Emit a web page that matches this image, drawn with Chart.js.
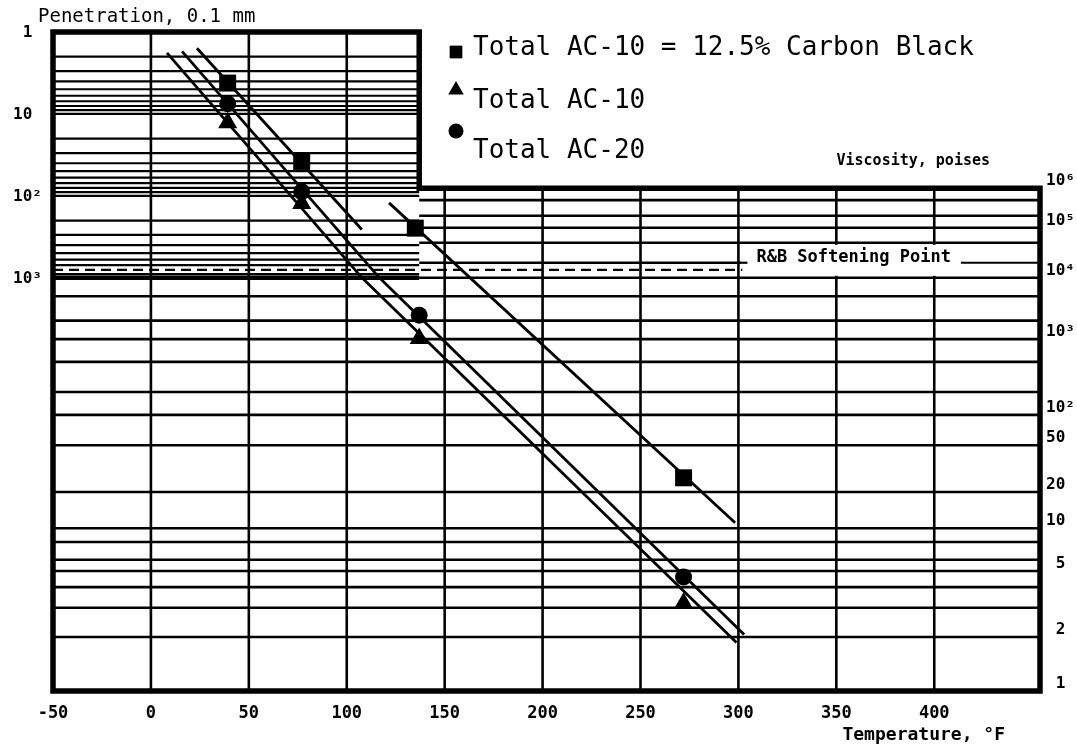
<!DOCTYPE html>
<html>
<head>
<meta charset="utf-8">
<script src="https://cdn.jsdelivr.net/npm/chart.js@4.4.1/dist/chart.umd.min.js"></script>
<style>
  html, body { margin: 0; padding: 0; background: #fff; }
</style>
</head>
<body>
<canvas id="btdc" width="1077" height="750"></canvas>
<script>
// ---------------------------------- Data ----------------------------------
// Legend
var seriesNames = ["Total AC-10 = 12.5% Carbon Black", "Total AC-10", "Total AC-20"];
var seriesMarks = ["rect", "triangle", "circle"];

// Test temperatures, °F
var penTemps = [39.2, 77];
var viscTempsCB = [135, 272];
var viscTemps = [137, 272];

// Penetration, 0.1 mm
var penCB = [4.2, 38];
var penAC10 = [12.8, 124];
var penAC20 = [7.5, 89];

// Viscosity, poises
var viscCB = [98000, 26.4];
var viscAC10 = [1020, 3.2];
var viscAC20 = [2450, 4.6];

// Drawn lines, [temperature, value] end points
var lineCBpen = [[23.5, 1.58], [107.7, 257]];
var lineCBvisc = [[121.6, 425000], [298.3, 11.1]];
var lineAC10pen = [[8.2, 1.8], [107.8, 1000]];
var lineAC10visc = [[107.8, 10000], [299, 1.86]];
var lineAC20pen = [[15.9, 1.72], [116.7, 1000]];
var lineAC20visc = [[116.7, 10000], [302.9, 2.07]];

// R&B softening point level (penetration 800)
var rbLine = [[-50, 800], [302, 800]];

// Axis ticks
var tempTicks = [-50, 0, 50, 100, 150, 200, 250, 300, 350, 400];
var penTickValues = [1, 10, 100, 1000];
var penTickText = ["1 ", "10 ", "10\u00b2", "10\u00b3"];
var viscTickValues = [1, 2, 5, 10, 20, 50, 100, 1000, 10000, 100000, 1000000];
var viscTickText = ["1 ", "2 ", "5 ", "10 ", "20 ", "50 ", "10\u00b2", "10\u00b3", "10\u2074", "10\u2075", "10\u2076"];

// Printed grid lines
var penGrid = [1, 2, 3, 4, 5, 6, 7, 8, 9, 10, 20, 30, 40, 50, 60, 70, 80, 90,
               100, 200, 300, 400, 500, 600, 700, 900, 1000];
var viscGrid = [1, 2, 3, 4, 5, 6, 8, 10, 20, 50, 100, 200, 500, 1000, 2000, 5000,
                10000, 20000, 50000, 100000, 200000, 500000, 1000000];

// ------------------------------ Chart paper -------------------------------
// penetration box ends at this temperature, right part starts at 10^6 poises
var penBoxEdge = 137;
// share of the sheet height used by the 3 penetration decades
var penShare = 0.373;
// viscosity scale of the sheet: [log10 poises, fraction from top]
var viscPaper = [[6, 0.237], [5, 0.297], [4, 0.373], [3, 0.466], [2, 0.581], [1.699, 0.627],
                 [1.301, 0.698], [1, 0.753], [0.699, 0.818], [0.301, 0.918], [0, 1.0]];

Chart.defaults.font.family = "'DejaVu Sans Mono', monospace";
Chart.defaults.color = '#000';

// Viscosity axis with the printed (non log) spacing of the sheet
class PaperViscScale extends Chart.LinearScale {
  buildTicks() {
    return this.options.tickValues.map(function (v) { return { value: v }; });
  }
  paperFraction(v) {
    var p = this.options.paper, L = Math.log10(v);
    for (var i = 0; i < p.length - 1; i++) {
      if (L >= p[i + 1][0] || i === p.length - 2) {
        var t = (L - p[i][0]) / (p[i + 1][0] - p[i][0]);
        return p[i][1] + t * (p[i + 1][1] - p[i][1]);
      }
    }
  }
  getPixelForValue(v) {
    return this.getPixelForDecimal(1 - this.paperFraction(v));
  }
  getValueForPixel(px) {
    var f = (px - this.top) / this.height, p = this.options.paper;
    for (var i = 0; i < p.length - 1; i++) {
      if (f <= p[i + 1][1] || i === p.length - 2) {
        var t = (f - p[i][1]) / (p[i + 1][1] - p[i][1]);
        return Math.pow(10, p[i][0] + t * (p[i + 1][0] - p[i][0]));
      }
    }
  }
}
PaperViscScale.id = 'paperVisc';
PaperViscScale.defaults = {};
Chart.register(PaperViscScale);

function pts(temps, vals) {
  return temps.map(function (t, i) { return { x: t, y: vals[i] }; });
}
function seg(line) {
  return line.map(function (p) { return { x: p[0], y: p[1] }; });
}
function markSet(data, axis, style, r) {
  return { data: data, yAxisID: axis, pointStyle: style, pointRadius: r, showLine: false,
           backgroundColor: '#000', borderColor: '#000', borderWidth: 0, order: 0 };
}
function lineSet(data, axis) {
  return { data: data, yAxisID: axis, showLine: true, pointRadius: 0, borderColor: '#000',
           borderWidth: 2.8, fill: false, tension: 0, order: 1 };
}

// ---------------------------- Grid and frame ------------------------------
var paperPlugin = {
  id: 'paper',
  beforeDatasetsDraw: function (chart) {
    var ctx = chart.ctx, a = chart.chartArea;
    var sx = chart.scales.x, sp = chart.scales.pen, sv = chart.scales.visc;
    var xEdge = sx.getPixelForValue(penBoxEdge);
    var yStep = sv.getPixelForValue(1e6);
    var yPenEnd = sp.getPixelForValue(1000);
    function line(x0, y0, x1, y1) { ctx.beginPath(); ctx.moveTo(x0, y0); ctx.lineTo(x1, y1); ctx.stroke(); }
    ctx.save();
    ctx.strokeStyle = '#000';
    ctx.lineWidth = 2.2;
    penGrid.forEach(function (v) {
      var y = sp.getPixelForValue(v);
      line(a.left, y, xEdge, y);
    });
    ctx.lineWidth = 2.6;
    viscGrid.forEach(function (v) {
      var y = sv.getPixelForValue(v);
      line(y <= yPenEnd + 0.5 ? xEdge : a.left, y, a.right, y);
    });
    tempTicks.forEach(function (t) {
      var px = sx.getPixelForValue(t);
      line(px, t < penBoxEdge ? a.top : yStep, px, a.bottom);
    });

    // R&B label sits on the 2x10^4 line
    var x300 = sx.getPixelForValue(300);
    var y2 = sv.getPixelForValue(20000), yTop = sv.getPixelForValue(50000), yBot = sv.getPixelForValue(10000);
    ctx.fillStyle = '#fff';
    ctx.fillRect(x300 + 2, yTop + 2, a.right - x300 - 4, yBot - yTop - 4);
    ctx.lineWidth = 2.2;
    line(x300, y2, x300 + 9, y2);
    ctx.fillStyle = '#000';
    ctx.font = "bold 17px 'DejaVu Sans Mono'";
    ctx.textAlign = 'left';
    ctx.textBaseline = 'alphabetic';
    var label = 'R&B Softening Point';
    ctx.fillText(label, x300 + 18, y2 - 1);
    line(x300 + 18 + ctx.measureText(label).width + 10, y2, a.right, y2);

    // frame
    ctx.lineWidth = 5.5;
    ctx.lineJoin = 'miter';
    ctx.beginPath();
    ctx.moveTo(a.left, a.top);
    ctx.lineTo(xEdge, a.top);
    ctx.lineTo(xEdge, yStep);
    ctx.lineTo(a.right, yStep);
    ctx.lineTo(a.right, a.bottom);
    ctx.lineTo(a.left, a.bottom);
    ctx.closePath();
    ctx.stroke();
    ctx.lineWidth = 4.5;
    line(a.left, yPenEnd, xEdge, yPenEnd);
    ctx.restore();
  },
  afterDraw: function (chart) {
    var ctx = chart.ctx;
    ctx.save();
    ctx.fillStyle = '#000';
    ctx.textBaseline = 'middle';
    ctx.textAlign = 'left';
    ctx.font = "19px 'DejaVu Sans Mono'";
    ctx.fillText('Penetration, 0.1 mm', 38, 17);
    ctx.textAlign = 'right';
    ctx.font = "bold 15px 'DejaVu Sans Mono'";
    ctx.fillText('Viscosity, poises', 990, 161);
    ctx.font = "bold 18px 'DejaVu Sans Mono'";
    ctx.fillText('Temperature, \u00b0F', 1005, 735);

    // legend
    var markY = [52, 90, 131], textY = [48, 101, 151], markR = [9, 9, 7.5];
    ctx.textAlign = 'left';
    ctx.font = "26px 'DejaVu Sans Mono'";
    for (var i = 0; i < seriesNames.length; i++) {
      Chart.helpers.drawPoint(ctx, { pointStyle: seriesMarks[i], radius: markR[i], rotation: 0, borderWidth: 0 }, 456, markY[i]);
      ctx.fillText(seriesNames[i], 473, textY[i]);
    }
    ctx.restore();
  }
};

// --------------------------------- Chart ----------------------------------
var chart = new Chart(document.getElementById('btdc'), {
  type: 'scatter',
  data: {
    datasets: [
      markSet(pts(penTemps, penCB), 'pen', 'rect', 12),
      markSet(pts(viscTempsCB, viscCB), 'visc', 'rect', 12),
      markSet(pts(penTemps, penAC10), 'pen', 'triangle', 11),
      markSet(pts(viscTemps, viscAC10), 'visc', 'triangle', 11),
      markSet(pts(penTemps, penAC20), 'pen', 'circle', 8.5),
      markSet(pts(viscTemps, viscAC20), 'visc', 'circle', 8.5),
      lineSet(seg(lineCBpen), 'pen'),
      lineSet(seg(lineCBvisc), 'visc'),
      lineSet(seg(lineAC10pen), 'pen'),
      lineSet(seg(lineAC10visc), 'visc'),
      lineSet(seg(lineAC20pen), 'pen'),
      lineSet(seg(lineAC20visc), 'visc'),
      { data: seg(rbLine), yAxisID: 'pen', showLine: true, pointRadius: 0, borderColor: '#000',
        borderWidth: 2.4, borderDash: [10, 6], fill: false, order: 2 }
    ]
  },
  options: {
    responsive: false,
    animation: false,
    events: [],
    layout: { padding: { left: 0, right: 2, top: 32, bottom: 0 } },
    plugins: { legend: { display: false }, tooltip: { enabled: false } },
    scales: {
      x: {
        type: 'linear', min: -50, max: 454,
        afterBuildTicks: function (s) { s.ticks = tempTicks.map(function (v) { return { value: v }; }); },
        afterFit: function (s) { s.height = 59; },
        grid: { display: false, drawTicks: false },
        border: { display: false },
        ticks: { autoSkip: false, maxRotation: 0, padding: 12, font: { size: 17, weight: 'bold' },
                 callback: function (v) { return String(v); } }
      },
      pen: {
        type: 'logarithmic', position: 'left', reverse: true,
        min: 1, max: Math.pow(10, 3 / penShare),
        afterBuildTicks: function (s) { s.ticks = penTickValues.map(function (v) { return { value: v }; }); },
        afterFit: function (s) { s.width = 53; },
        grid: { display: false, drawTicks: false },
        border: { display: false },
        ticks: { autoSkip: false, padding: 11, labelOffset: 1, font: { size: 16, weight: 'bold' },
                 callback: function (v) { return penTickText[penTickValues.indexOf(v)]; } }
      },
      visc: {
        type: 'paperVisc', position: 'right', min: 1, max: 1e6,
        tickValues: viscTickValues, paper: viscPaper,
        afterFit: function (s) { s.width = 35; },
        grid: { display: false, drawTicks: false },
        border: { display: false },
        ticks: { autoSkip: false, crossAlign: 'far', labelOffset: -7, font: { size: 16, weight: 'bold' },
                 callback: function (v) { return viscTickText[viscTickValues.indexOf(v)]; } }
      }
    }
  },
  plugins: [paperPlugin]
});
</script>
</body>
</html>
